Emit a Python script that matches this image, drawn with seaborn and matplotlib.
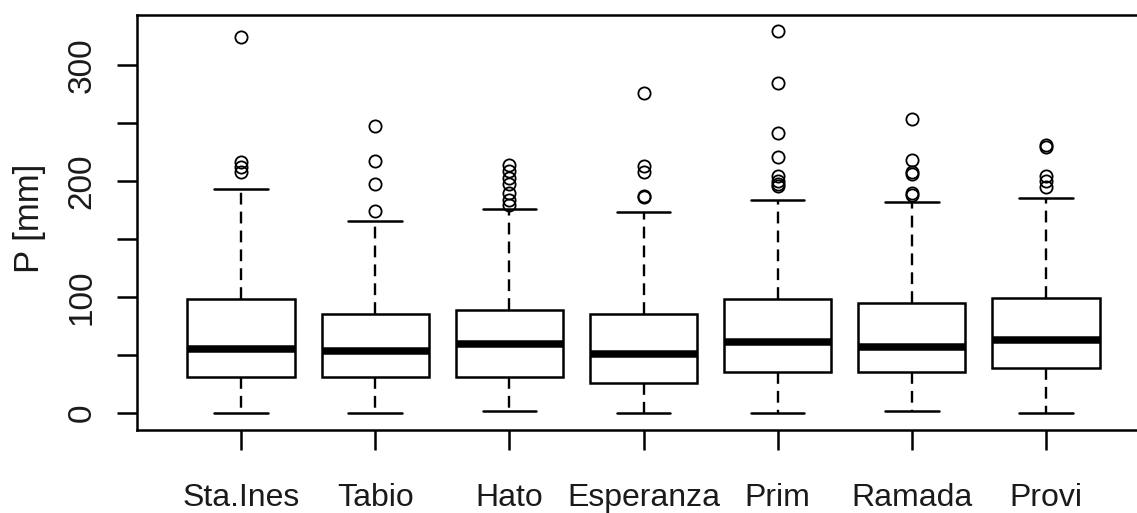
import matplotlib
matplotlib.use("Agg")
import matplotlib.pyplot as plt
import numpy as np
import pandas as pd
import seaborn as sns

# monthly precipitation per station
stations = ["Sta.Ines", "Tabio", "Hato", "Esperanza", "Prim", "Ramada", "Provi"]
low_whisker = [0, 0, 2, 0, 0, 2, 0]
q1 = [31.3, 31.3, 31.0, 25.6, 35.5, 35.1, 39.1]
median = [55.2, 53.2, 59.2, 51.4, 60.9, 57.2, 63.2]
q3 = [98.5, 85.2, 89.0, 85.1, 98.5, 94.6, 98.9]
high_whisker = [193.4, 165.5, 175.5, 173.5, 183.3, 181.6, 185.3]
outliers = [
    [324, 216, 212, 208],
    [247, 217, 197, 174],
    [214, 209, 203, 197, 190, 184, 179],
    [276, 213, 208, 187, 186],
    [329, 284, 241, 221, 204, 200, 197, 196],
    [253, 218, 208, 206, 190, 188],
    [231, 229, 204, 200, 195],
]

# seaborn needs raw values: rebuild a sample per station whose quartiles,
# whisker ends and outliers are the values read above
rows = []
for i, st in enumerate(stations):
    vals = ([low_whisker[i]] + [q1[i]] * 20 + [median[i]] * 20 + [q3[i]] * 20
            + [high_whisker[i]] + outliers[i])
    for v in vals:
        rows.append((st, v))
df = pd.DataFrame(rows, columns=["station", "P"])

sns.set_style("ticks")
plt.rcParams["font.family"] = ["Liberation Sans", "DejaVu Sans"]
txt_color = "#1a1a1a"

fig = plt.figure(figsize=(11.37, 5.13), dpi=100)
ax = fig.add_axes([137 / 1137, 83 / 513, 1013 / 1137, 415 / 513])

sns.boxplot(data=df, x="station", y="P", order=stations, ax=ax,
            color="white", linecolor="black", saturation=1, width=0.8,
            linewidth=1.8, whis=1.5,
            whiskerprops={"linestyle": (0, (5, 3)), "linewidth": 1.7},
            medianprops={"linewidth": 5.4, "color": "black",
                         "solid_capstyle": "butt"},
            capprops={"linewidth": 1.8},
            flierprops={"marker": "o", "markerfacecolor": "none",
                        "markeredgecolor": "black", "markersize": 8.8,
                        "markeredgewidth": 1.3})

ax.set_xlim(-0.776, 6.776)
ax.set_ylim(-14.5, 343)
ax.set_yticks(range(0, 301, 50))
ax.set_yticklabels(["0", "", "100", "", "200", "", "300"])

for s in ["left", "bottom", "top"]:
    ax.spines[s].set_linewidth(1.8)
    ax.spines[s].set_color("black")
ax.spines["right"].set_visible(False)

ax.tick_params(axis="both", length=14.4, width=1.8, direction="out", color="black")
ax.tick_params(axis="x", labelsize=23, pad=24, labelcolor=txt_color)
ax.tick_params(axis="y", labelsize=24, pad=14, labelcolor=txt_color)
for t in ax.get_yticklabels():
    t.set_rotation(90)
    t.set_va("center")

ax.set_xlabel("")
ax.set_ylabel("P [mm]", fontsize=25, color=txt_color)
ax.yaxis.set_label_coords(-0.09, 0.51)

fig.savefig("out.png", dpi=100)
